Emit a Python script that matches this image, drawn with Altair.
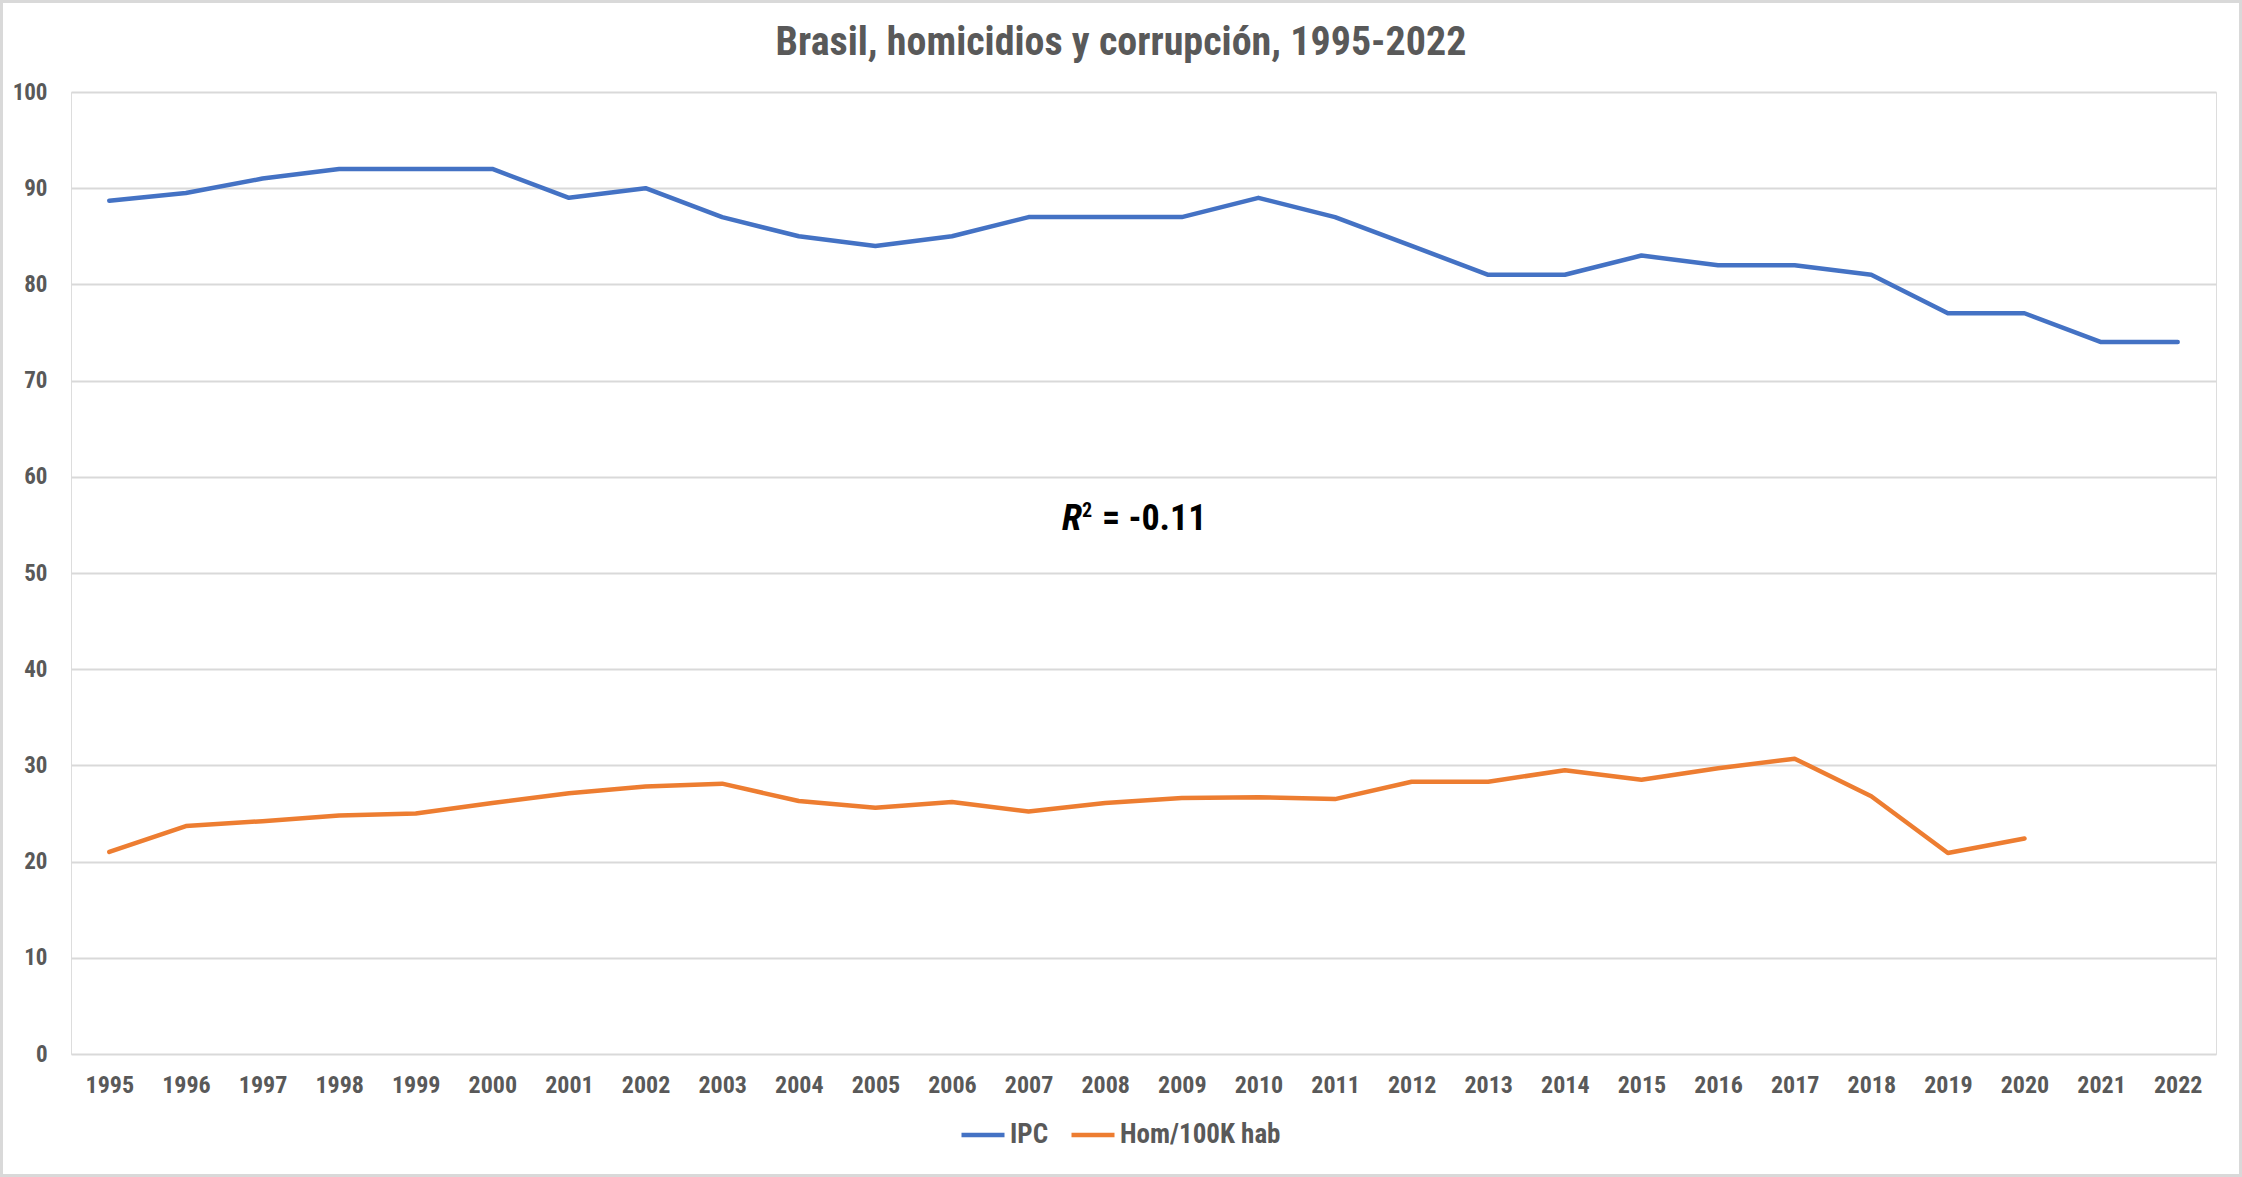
import altair as alt
import pandas as pd

# Yearly series: corruption perception index (IPC) and homicides per 100K inhabitants
years = [str(y) for y in range(1995, 2023)]
ipc = [88.7, 89.5, 91.0, 92.0, 92.0, 92.0, 89.0, 90.0, 87.0, 85.0, 84.0, 85.0, 87.0, 87.0,
       87.0, 89.0, 87.0, 84.0, 81.0, 81.0, 83.0, 82.0, 82.0, 81.0, 77.0, 77.0, 74.0, 74.0]
hom = [21.0, 23.7, 24.2, 24.8, 25.0, 26.1, 27.1, 27.8, 28.1, 26.3, 25.6, 26.2, 25.2, 26.1,
       26.6, 26.7, 26.5, 28.3, 28.3, 29.5, 28.5, 29.7, 30.7, 26.8, 20.9, 22.4, None, None]
series_names = ["IPC", "Hom/100K hab"]
series_colors = ["#4472C4", "#ED7D31"]
y_ticks = list(range(0, 101, 10))
title_text = "Brasil, homicidios y corrupción, 1995-2022"

rows = []
for y, a, b in zip(years, ipc, hom):
    rows.append({"Año": y, "Serie": "IPC", "Valor": a})
    if b is not None:
        rows.append({"Año": y, "Serie": "Hom/100K hab", "Valor": b})
df = pd.DataFrame(rows)

FONT = "Liberation Sans Narrow, Arial Narrow, Roboto Condensed, sans-serif"
GREY = "#595959"
W, H = 2145, 962
PAD = {"left": 71, "top": 92, "right": 26, "bottom": 123}

lines = alt.Chart(df).mark_line(strokeWidth=4.5, strokeCap="round", strokeJoin="round").encode(
    x=alt.X("Año:O", sort=years,
            scale=alt.Scale(type="point", padding=0.5),
            axis=alt.Axis(title=None, labelAngle=0, labelFontSize=24, labelFontWeight="bold",
                          labelColor=GREY, labelFont=FONT, labelPadding=19,
                          domain=False, ticks=False, grid=False)),
    y=alt.Y("Valor:Q",
            scale=alt.Scale(domain=[0, 100], nice=False, zero=True),
            axis=alt.Axis(title=None, values=y_ticks, labelFontSize=23, labelFontWeight="bold",
                          labelColor=GREY, labelFont=FONT, labelPadding=24,
                          domain=False, ticks=False, grid=True, gridColor="#D9D9D9",
                          gridWidth=2)),
    color=alt.Color("Serie:N",
                    scale=alt.Scale(domain=series_names, range=series_colors),
                    legend=alt.Legend(title=None, orient="none", legendX=888, legendY=1019,
                                      direction="horizontal", symbolType="stroke",
                                      symbolSize=1849, symbolStrokeWidth=4.5,
                                      labelFontSize=27, labelFontWeight="bold",
                                      labelColor=GREY, labelFont=FONT, labelOffset=3,
                                      labelLimit=400, columnPadding=13)),
    order=alt.Order("Año:O"),
)

ann = pd.DataFrame({"t": [""]})

# Chart title, centred on the whole chart
title = alt.Chart(ann).mark_text(text=title_text, font=FONT, fontSize=40, fontWeight="bold",
                                 align="center", baseline="alphabetic",
                                 color=GREY).encode(x=alt.value(1050), y=alt.value(-37))

# R² annotation
r_txt = alt.Chart(ann).mark_text(text="R", font=FONT, fontSize=37, fontWeight="bold",
                                 fontStyle="italic", align="left", baseline="alphabetic",
                                 color="black").encode(x=alt.value(991), y=alt.value(438))
sup_txt = alt.Chart(ann).mark_text(text="2", font=FONT, fontSize=20, fontWeight="bold",
                                   align="left", baseline="alphabetic",
                                   color="black").encode(x=alt.value(1011), y=alt.value(425))
eq_txt = alt.Chart(ann).mark_text(text="= -0.11", font=FONT, fontSize=36, fontWeight="bold",
                                  align="left", baseline="alphabetic",
                                  color="black").encode(x=alt.value(1031), y=alt.value(438))

# Outer chart frame
frame = alt.Chart(ann).mark_rect(fill=None, stroke="#D9D9D9", strokeWidth=3).encode(
    x=alt.value(-PAD["left"] + 1.5), x2=alt.value(W + PAD["right"] - 1.5),
    y=alt.value(-PAD["top"] + 1.5), y2=alt.value(H + PAD["bottom"] - 1.5),
)

chart = alt.layer(frame, lines, title, r_txt, sup_txt, eq_txt).properties(
    width=W, height=H,
    autosize=alt.AutoSizeParams(type="none"),
    padding=PAD,
).configure_view(stroke=None).configure(background="white")

chart.save("out.html", embed_options={"renderer": "svg", "actions": False})
